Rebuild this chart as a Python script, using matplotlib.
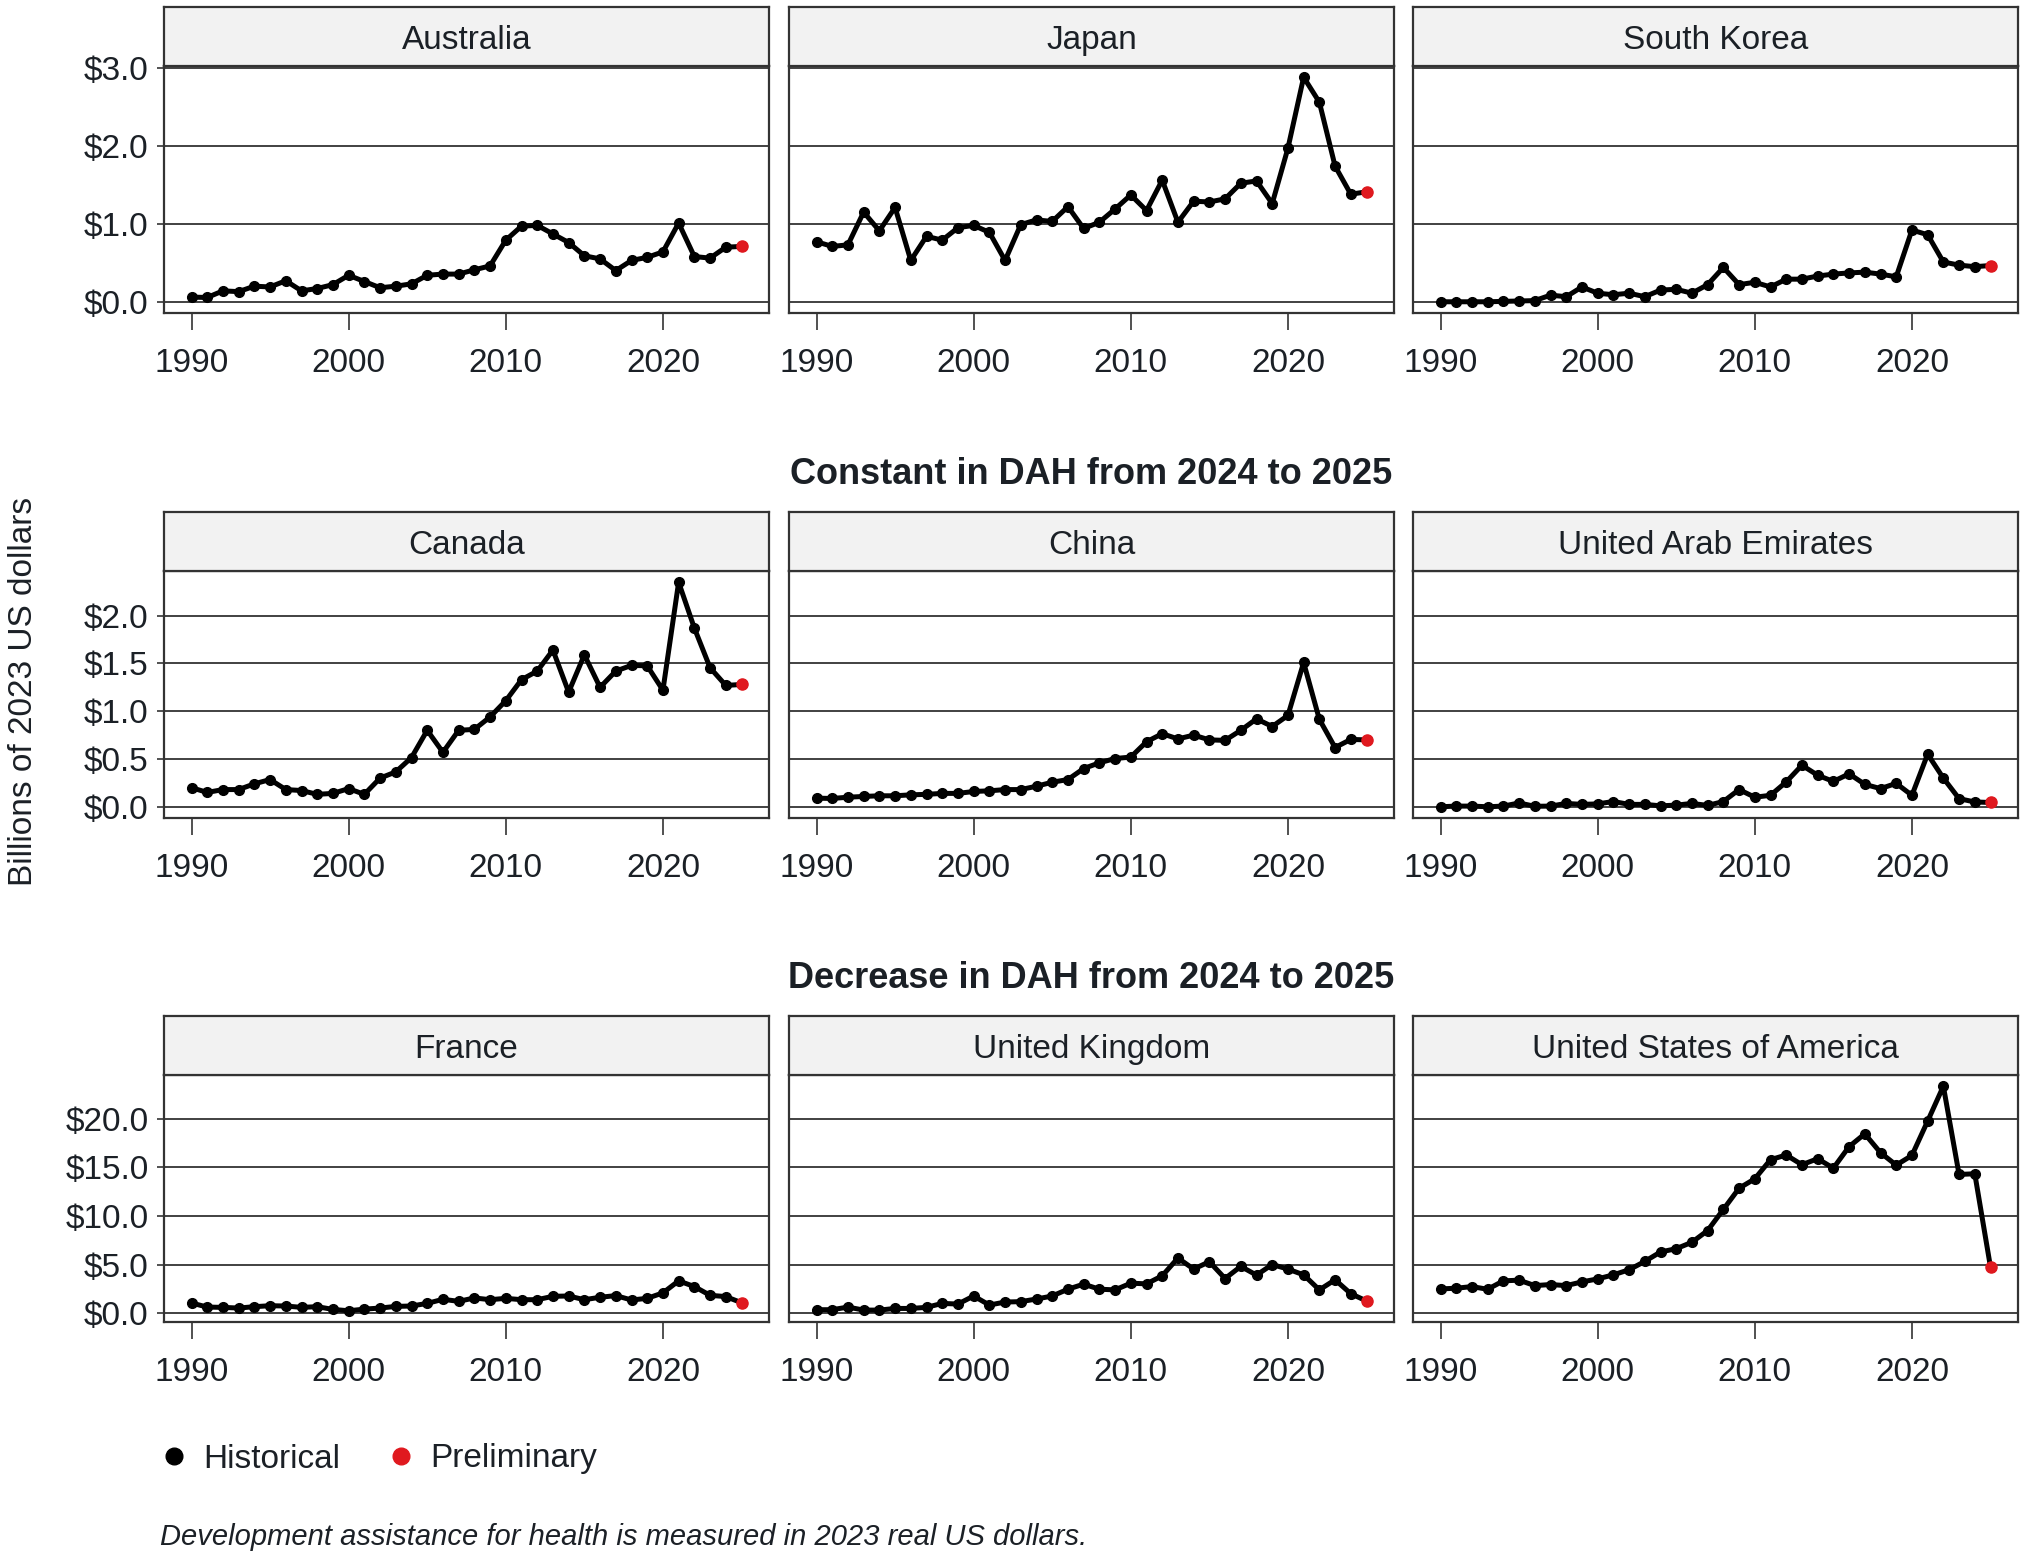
import matplotlib
matplotlib.use('Agg')
import matplotlib.pyplot as plt
from matplotlib.lines import Line2D
from matplotlib.ticker import FuncFormatter

plt.rcParams['font.family'] = ['Liberation Sans', 'DejaVu Sans']

TEXT = '#1b2026'
GRID = '#333333'
RED = '#e0191f'

years = list(range(1990, 2026))

# values 1990..2025, the last one (2025) is preliminary
australia = [0.06, 0.055, 0.14, 0.13, 0.20, 0.19, 0.27, 0.14, 0.17, 0.22,
             0.34, 0.26, 0.18, 0.20, 0.23, 0.34, 0.355, 0.355, 0.41, 0.46,
             0.79, 0.97, 0.98, 0.87, 0.76, 0.59, 0.55, 0.40, 0.53, 0.57,
             0.64, 1.01, 0.58, 0.56, 0.70, 0.71]
japan = [0.77, 0.71, 0.73, 1.15, 0.91, 1.21, 0.53, 0.84, 0.79, 0.95,
         0.98, 0.89, 0.53, 0.99, 1.05, 1.03, 1.22, 0.94, 1.02, 1.19,
         1.37, 1.17, 1.56, 1.02, 1.29, 1.28, 1.32, 1.52, 1.55, 1.26,
         1.97, 2.88, 2.56, 1.74, 1.38, 1.41]
south_korea = [0.0, 0.0, 0.0, 0.0, 0.005, 0.01, 0.015, 0.085, 0.065, 0.19,
               0.11, 0.09, 0.11, 0.065, 0.15, 0.16, 0.11, 0.22, 0.44, 0.22,
               0.25, 0.19, 0.29, 0.29, 0.33, 0.355, 0.37, 0.38, 0.355, 0.32,
               0.92, 0.86, 0.51, 0.47, 0.45, 0.465]
canada = [0.20, 0.15, 0.18, 0.18, 0.24, 0.285, 0.18, 0.17, 0.13, 0.14,
          0.19, 0.13, 0.30, 0.365, 0.515, 0.80, 0.57, 0.80, 0.81, 0.94,
          1.11, 1.33, 1.42, 1.64, 1.20, 1.59, 1.25, 1.42, 1.48, 1.475,
          1.22, 2.35, 1.87, 1.455, 1.27, 1.28]
china = [0.09, 0.087, 0.10, 0.108, 0.115, 0.115, 0.125, 0.13, 0.14, 0.14,
         0.16, 0.167, 0.18, 0.18, 0.215, 0.257, 0.285, 0.40, 0.46, 0.505,
         0.52, 0.68, 0.765, 0.71, 0.75, 0.70, 0.695, 0.80, 0.92, 0.84,
         0.956, 1.51, 0.915, 0.62, 0.705, 0.70]
uae = [0.0, 0.007, 0.007, 0.0, 0.007, 0.04, 0.005, 0.007, 0.035, 0.025,
       0.03, 0.055, 0.025, 0.025, 0.01, 0.017, 0.035, 0.014, 0.055, 0.18,
       0.10, 0.12, 0.26, 0.435, 0.33, 0.265, 0.345, 0.235, 0.19, 0.245,
       0.12, 0.55, 0.30, 0.085, 0.05, 0.045]
france = [1.04, 0.62, 0.59, 0.52, 0.66, 0.76, 0.73, 0.59, 0.66, 0.38,
          0.24, 0.41, 0.52, 0.69, 0.73, 1.0, 1.42, 1.21, 1.56, 1.38,
          1.52, 1.38, 1.38, 1.73, 1.76, 1.38, 1.63, 1.80, 1.35, 1.52,
          2.08, 3.32, 2.73, 1.83, 1.70, 1.07]
united_kingdom = [0.35, 0.35, 0.62, 0.31, 0.31, 0.48, 0.48, 0.59, 1.0, 0.93,
                  1.76, 0.83, 1.14, 1.18, 1.45, 1.76, 2.46, 2.98, 2.46, 2.39,
                  3.08, 3.01, 3.84, 5.67, 4.53, 5.29, 3.56, 4.81, 3.91, 5.0,
                  4.53, 3.94, 2.39, 3.43, 2.0, 1.25]
usa = [2.49, 2.56, 2.73, 2.45, 3.32, 3.39, 2.83, 2.94, 2.83, 3.21,
       3.52, 3.94, 4.46, 5.32, 6.29, 6.63, 7.29, 8.5, 10.67, 12.85,
       13.82, 15.79, 16.27, 15.27, 15.89, 14.92, 17.13, 18.45, 16.51, 15.23,
       16.23, 19.76, 23.35, 14.27, 14.34, 4.73]

row_titles = [None, 'Constant in DAH from 2024 to 2025', 'Decrease in DAH from 2024 to 2025']
row_panels = [
    [('Australia', australia), ('Japan', japan), ('South Korea', south_korea)],
    [('Canada', canada), ('China', china), ('United Arab Emirates', uae)],
    [('France', france), ('United Kingdom', united_kingdom), ('United States of America', usa)],
]
row_ticks = [[0, 1, 2, 3], [0, 0.5, 1.0, 1.5, 2.0], [0, 5, 10, 15, 20]]
x_ticks = [1990, 2000, 2010, 2020]

W, H = 2025, 1559
fig = plt.figure(figsize=(W / 100, H / 100), dpi=100)

col_left = [164, 789, 1413]
col_w = 605
row_top = [66, 571, 1075]   # top of plot area (below strip), px
plot_h = 247
strip_h = 59

money = FuncFormatter(lambda v, p: '${:.1f}'.format(v))

for r, panels in enumerate(row_panels):
    allv = [v for _, vals in panels for v in vals]
    lo, hi = min(allv), max(allv)
    pad = 0.05 * (hi - lo)
    for c, (name, vals) in enumerate(panels):
        x0 = col_left[c] / W
        y0 = 1 - (row_top[r] + plot_h) / H
        ax = fig.add_axes([x0, y0, col_w / W, plot_h / H])
        ax.plot(years, vals, color='black', lw=3.6, marker='o', ms=7, zorder=3)
        ax.plot(years[-1], vals[-1], 'o', color=RED, ms=8, zorder=4)
        ax.set_xlim(1988.25, 2026.75)
        ax.set_ylim(lo - pad, hi + pad)
        ax.set_yticks(row_ticks[r])
        ax.set_xticks(x_ticks)
        ax.yaxis.grid(True, color=GRID, lw=1.3, zorder=1)
        ax.set_axisbelow(True)
        for s in ax.spines.values():
            s.set_color(GRID)
            s.set_linewidth(1.6)
        ax.tick_params(axis='x', length=12, width=1.2, color=GRID, pad=13,
                       labelsize=24, labelcolor=TEXT)
        if c == 0:
            ax.yaxis.set_major_formatter(money)
            ax.tick_params(axis='y', length=5, width=1.2, color=GRID, pad=6,
                           labelsize=24, labelcolor=TEXT)
        else:
            ax.tick_params(axis='y', length=0, labelleft=False)

        sax = fig.add_axes([x0, 1 - row_top[r] / H, col_w / W, strip_h / H])
        sax.set_facecolor('#f2f2f2')
        sax.set_xticks([])
        sax.set_yticks([])
        for s in sax.spines.values():
            s.set_color(GRID)
            s.set_linewidth(1.6)
        sax.text(0.5, 0.44, name, ha='center', va='center', fontsize=24,
                 color=TEXT, transform=sax.transAxes)

    if row_titles[r]:
        fig.text(1091 / W, 1 - (row_top[r] - strip_h - 37) / H, row_titles[r],
                 ha='center', va='center', fontsize=26, fontweight='bold', color=TEXT)

fig.text(24 / W, 1 - 691 / H, 'Billions of 2023 US dollars', rotation=90,
         ha='center', va='center', fontsize=24, color=TEXT)

handles = [Line2D([], [], ls='', marker='o', color='black', ms=12),
           Line2D([], [], ls='', marker='o', color=RED, ms=12)]
fig.legend(handles, ['Historical', 'Preliminary'], loc='center left',
           bbox_to_anchor=(157 / W, 1 - 1459 / H), ncol=2, frameon=False,
           fontsize=24, handlelength=1.0, handletextpad=0.4, columnspacing=1.3,
           borderpad=0, borderaxespad=0, labelcolor=TEXT)

fig.text(160 / W, 1 - 1537 / H,
         'Development assistance for health is measured in 2023 real US dollars.',
         ha='left', va='center', fontsize=21, style='italic', color=TEXT)

fig.savefig('out.png', dpi=100)
